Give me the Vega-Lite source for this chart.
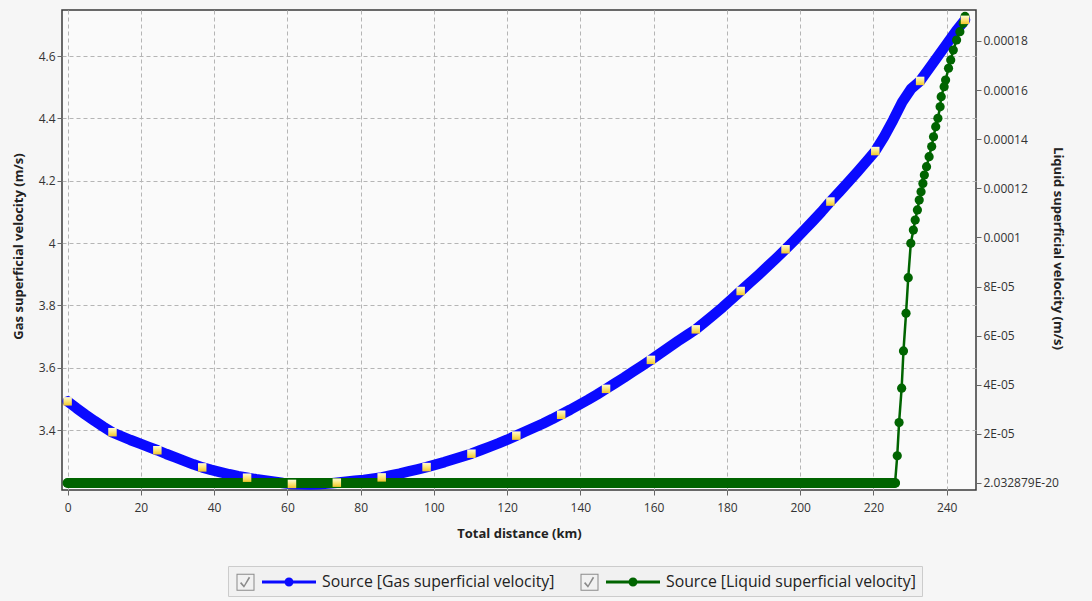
{
  "$schema": "https://vega.github.io/schema/vega-lite/v6.json",
  "autosize": {"type": "none"},
  "padding": {"left": 62, "top": 10, "right": 116, "bottom": 111},
  "width": 914,
  "height": 480,
  "background": "#f6f6f6",
  "config": {
    "font": "Open Sans",
    "view": {"fill": "#fafafa", "stroke": "#3a3a3a", "strokeWidth": 1.5},
    "axis": {
      "domain": false,
      "tickColor": "#666666",
      "tickSize": 5,
      "labelFont": "Open Sans",
      "labelFontSize": 12,
      "labelColor": "#333333",
      "titleFont": "Open Sans",
      "titleFontSize": 13,
      "titleFontWeight": "bold",
      "titleColor": "#222222",
      "gridColor": "#b5b5b5",
      "gridDash": [4, 3],
      "gridWidth": 1
    }
  },
  "datasets": {
    "gas": [
      {"km": 0, "v": 3.492}, {"km": 2.45, "v": 3.470}, {"km": 4.9, "v": 3.449}, {"km": 7.35, "v": 3.429}, {"km": 9.8, "v": 3.410},
      {"km": 12.25, "v": 3.392}, {"km": 14.7, "v": 3.380}, {"km": 17.15, "v": 3.368}, {"km": 19.6, "v": 3.357}, {"km": 22.05, "v": 3.346},
      {"km": 24.5, "v": 3.335}, {"km": 26.95, "v": 3.323}, {"km": 29.4, "v": 3.312}, {"km": 31.85, "v": 3.301}, {"km": 34.3, "v": 3.290},
      {"km": 36.75, "v": 3.280}, {"km": 39.2, "v": 3.272}, {"km": 41.65, "v": 3.265}, {"km": 44.1, "v": 3.258}, {"km": 46.55, "v": 3.252},
      {"km": 49, "v": 3.247}, {"km": 51.45, "v": 3.242}, {"km": 53.9, "v": 3.238}, {"km": 56.35, "v": 3.234}, {"km": 58.8, "v": 3.230},
      {"km": 61.25, "v": 3.227}, {"km": 63.7, "v": 3.226}, {"km": 66.15, "v": 3.225}, {"km": 68.6, "v": 3.226}, {"km": 71.05, "v": 3.228},
      {"km": 73.5, "v": 3.231}, {"km": 75.95, "v": 3.234}, {"km": 78.4, "v": 3.237}, {"km": 80.85, "v": 3.240}, {"km": 83.3, "v": 3.244},
      {"km": 85.75, "v": 3.248}, {"km": 88.2, "v": 3.254}, {"km": 90.65, "v": 3.260}, {"km": 93.1, "v": 3.267}, {"km": 95.55, "v": 3.274},
      {"km": 98, "v": 3.281}, {"km": 100.45, "v": 3.289}, {"km": 102.9, "v": 3.297}, {"km": 105.35, "v": 3.306}, {"km": 107.8, "v": 3.315},
      {"km": 110.25, "v": 3.324}, {"km": 112.7, "v": 3.335}, {"km": 115.15, "v": 3.346}, {"km": 117.6, "v": 3.357}, {"km": 120.05, "v": 3.369},
      {"km": 122.5, "v": 3.382}, {"km": 124.95, "v": 3.395}, {"km": 127.4, "v": 3.408}, {"km": 129.85, "v": 3.421}, {"km": 132.3, "v": 3.435},
      {"km": 134.75, "v": 3.450}, {"km": 137.2, "v": 3.465}, {"km": 139.65, "v": 3.481}, {"km": 142.1, "v": 3.497}, {"km": 144.55, "v": 3.514},
      {"km": 147, "v": 3.532}, {"km": 149.45, "v": 3.550}, {"km": 151.9, "v": 3.568}, {"km": 154.35, "v": 3.587}, {"km": 156.8, "v": 3.606},
      {"km": 159.25, "v": 3.625}, {"km": 161.7, "v": 3.645}, {"km": 164.15, "v": 3.665}, {"km": 166.6, "v": 3.685}, {"km": 169.05, "v": 3.704},
      {"km": 171.5, "v": 3.723}, {"km": 173.95, "v": 3.746}, {"km": 176.4, "v": 3.770}, {"km": 178.85, "v": 3.794}, {"km": 181.3, "v": 3.820},
      {"km": 183.75, "v": 3.846}, {"km": 186.2, "v": 3.872}, {"km": 188.65, "v": 3.898}, {"km": 191.1, "v": 3.925}, {"km": 193.55, "v": 3.952},
      {"km": 196, "v": 3.980}, {"km": 198.45, "v": 4.009}, {"km": 200.9, "v": 4.039}, {"km": 203.35, "v": 4.069}, {"km": 205.8, "v": 4.100},
      {"km": 208.25, "v": 4.133}, {"km": 210.7, "v": 4.164}, {"km": 213.15, "v": 4.196}, {"km": 215.6, "v": 4.228}, {"km": 218.05, "v": 4.261},
      {"km": 220.5, "v": 4.295}, {"km": 222.95, "v": 4.342}, {"km": 225.4, "v": 4.395}, {"km": 227.85, "v": 4.452}, {"km": 230.3, "v": 4.495},
      {"km": 232.75, "v": 4.520}, {"km": 235.2, "v": 4.560}, {"km": 237.65, "v": 4.600}, {"km": 240.1, "v": 4.640}, {"km": 242.55, "v": 4.680},
      {"km": 245, "v": 4.716}
    ],
    "markers": [
      {"km": 0, "v": 3.492}, {"km": 12.25, "v": 3.393}, {"km": 24.5, "v": 3.335}, {"km": 36.75, "v": 3.280}, {"km": 49, "v": 3.247},
      {"km": 61.25, "v": 3.227}, {"km": 73.5, "v": 3.231}, {"km": 85.75, "v": 3.248}, {"km": 98, "v": 3.281}, {"km": 110.25, "v": 3.324},
      {"km": 122.5, "v": 3.382}, {"km": 134.75, "v": 3.449}, {"km": 147, "v": 3.532}, {"km": 159.25, "v": 3.625}, {"km": 171.5, "v": 3.723},
      {"km": 183.75, "v": 3.846}, {"km": 196, "v": 3.980}, {"km": 208.25, "v": 4.133}, {"km": 220.5, "v": 4.295}, {"km": 232.75, "v": 4.520},
      {"km": 245, "v": 4.716}
    ],
    "liquid": [
      {"km": 0, "v": 0}, {"km": 4.9, "v": 0}, {"km": 9.8, "v": 0}, {"km": 14.7, "v": 0}, {"km": 19.6, "v": 0},
      {"km": 24.5, "v": 0}, {"km": 29.4, "v": 0}, {"km": 34.3, "v": 0}, {"km": 39.2, "v": 0}, {"km": 44.1, "v": 0},
      {"km": 49, "v": 0}, {"km": 53.9, "v": 0}, {"km": 58.8, "v": 0}, {"km": 63.7, "v": 0}, {"km": 68.6, "v": 0},
      {"km": 73.5, "v": 0}, {"km": 78.4, "v": 0}, {"km": 83.3, "v": 0}, {"km": 88.2, "v": 0}, {"km": 93.1, "v": 0},
      {"km": 98, "v": 0}, {"km": 102.9, "v": 0}, {"km": 107.8, "v": 0}, {"km": 112.7, "v": 0}, {"km": 117.6, "v": 0},
      {"km": 122.5, "v": 0}, {"km": 127.4, "v": 0}, {"km": 132.3, "v": 0}, {"km": 137.2, "v": 0}, {"km": 142.1, "v": 0},
      {"km": 147, "v": 0}, {"km": 151.9, "v": 0}, {"km": 156.8, "v": 0}, {"km": 161.7, "v": 0}, {"km": 166.6, "v": 0},
      {"km": 171.5, "v": 0}, {"km": 176.4, "v": 0}, {"km": 181.3, "v": 0}, {"km": 186.2, "v": 0}, {"km": 191.1, "v": 0},
      {"km": 196, "v": 0}, {"km": 200.9, "v": 0}, {"km": 205.8, "v": 0}, {"km": 210.7, "v": 0}, {"km": 215.6, "v": 0},
      {"km": 220.5, "v": 0}, {"km": 225.4, "v": 0}, {"km": 225.9, "v": 0},
      {"km": 226.5, "v": 0.0000111}, {"km": 227.0, "v": 0.0000246}, {"km": 227.7, "v": 0.0000386}, {"km": 228.2, "v": 0.0000538},
      {"km": 228.9, "v": 0.0000691}, {"km": 229.5, "v": 0.0000836}, {"km": 230.2, "v": 0.0000976}, {"km": 230.9, "v": 0.000103},
      {"km": 231.4, "v": 0.0001071}, {"km": 232.0, "v": 0.0001112}, {"km": 232.5, "v": 0.0001152}, {"km": 233.0, "v": 0.0001186},
      {"km": 233.5, "v": 0.000122}, {"km": 233.9, "v": 0.0001254}, {"km": 234.5, "v": 0.0001288}, {"km": 235.2, "v": 0.0001329},
      {"km": 235.9, "v": 0.000137}, {"km": 236.4, "v": 0.000141}, {"km": 237.0, "v": 0.0001451}, {"km": 237.6, "v": 0.0001485},
      {"km": 238.2, "v": 0.0001532}, {"km": 238.5, "v": 0.0001573}, {"km": 239.3, "v": 0.0001614}, {"km": 239.7, "v": 0.0001641},
      {"km": 240.5, "v": 0.0001689}, {"km": 241.1, "v": 0.0001723}, {"km": 241.8, "v": 0.0001763}, {"km": 242.7, "v": 0.0001804},
      {"km": 243.6, "v": 0.0001838}, {"km": 244.5, "v": 0.0001872}, {"km": 245.0, "v": 0.00019}
    ],
    "boxes": [
      {"km": 0, "box": "cb1"}, {"km": 0, "box": "cb2"}
    ]
  },
  "encoding": {
    "x": {
      "field": "km",
      "type": "quantitative",
      "scale": {"domain": [-1.53, 248], "nice": false, "zero": false},
      "axis": {
        "title": "Total distance (km)",
        "values": [0, 20, 40, 60, 80, 100, 120, 140, 160, 180, 200, 220, 240],
        "grid": true,
        "labelPadding": 7,
        "titlePadding": 14
      }
    }
  },
  "layer": [
    {
      "data": {"name": "gas"},
      "mark": {"type": "line", "strokeWidth": 10.5, "strokeCap": "round", "strokeJoin": "round", "clip": true},
      "encoding": {
        "y": {
          "field": "v",
          "type": "quantitative",
          "scale": {"domain": [3.2075, 4.7476], "nice": false, "zero": false},
          "axis": {
            "title": "Gas superficial velocity (m/s)",
            "orient": "left",
            "values": [3.4, 3.6, 3.8, 4.0, 4.2, 4.4, 4.6],
            "format": ".1~f",
            "grid": true,
            "labelPadding": 2,
            "titleX": -44,
            "titleY": 236,
            "titleBaseline": "middle",
            "titleAngle": -90
          }
        },
        "color": {
          "datum": "Source [Gas superficial velocity]",
          "scale": {
            "domain": ["Source [Gas superficial velocity]", "Source [Liquid superficial velocity]"],
            "range": ["#0a0aff", "#006400"]
          },
          "legend": {
            "orient": "none",
            "legendX": 166,
            "legendY": 556,
            "zindex": 0,
            "direction": "horizontal",
            "title": null,
            "padding": 6,
            "fillColor": "#f1f1f1",
            "strokeColor": "#cccccc",
            "symbolType": "M1.8,-0.15H7.2V0.15H1.8Z M4.95,0A0.45,0.45,0,1,1,4.05,0A0.45,0.45,0,1,1,4.95,0Z",
            "symbolSize": 400,
            "symbolStrokeWidth": 0,
            "symbolOpacity": 1,
            "labelOffset": 68,
            "columnPadding": 23,
            "labelFont": "Open Sans",
            "labelFontSize": 15.8,
            "labelColor": "#222222",
            "labelLimit": 400,
            "encode": {
              "symbols": {
                "update": {
                  "fill": {"scale": "color", "field": "value"},
                  "stroke": {"value": "transparent"},
                  "opacity": {"value": 1}
                }
              }
            }
          }
        }
      }
    },
    {
      "data": {"name": "liquid"},
      "encoding": {
        "y": {
          "field": "v",
          "type": "quantitative",
          "scale": {"domain": [-0.000002851, 0.00019262], "nice": false, "zero": false},
          "axis": {
            "title": "Liquid superficial velocity (m/s)",
            "orient": "right",
            "values": [0, 0.00002, 0.00004, 0.00006, 0.00008, 0.0001, 0.00012, 0.00014, 0.00016, 0.00018],
            "labelExpr": "datum.value < 1e-10 ? '2.032879E-20' : (datum.value < 0.000099 ? round(datum.value * 100000) + 'E-05' : format(datum.value, '.5~f'))",
            "grid": false,
            "labelPadding": 2,
            "titleX": 81,
            "titleY": 238,
            "titleBaseline": "middle",
            "titleAngle": 90
          }
        },
        "color": {"datum": "Source [Liquid superficial velocity]"}
      },
      "layer": [
        {
          "transform": [{"filter": "datum.v == 0"}],
          "mark": {"type": "line", "strokeWidth": 10, "strokeCap": "round", "strokeJoin": "round"}
        },
        {
          "mark": {"type": "line", "strokeWidth": 2.5}
        },
        {
          "mark": {"type": "point", "filled": true, "size": 85, "opacity": 1, "strokeWidth": 0}
        }
      ]
    },
    {
      "data": {"name": "markers"},
      "mark": {
        "type": "point",
        "shape": "square",
        "size": 72,
        "filled": true,
        "opacity": 1,
        "strokeWidth": 0,
        "fill": {"gradient": "linear", "x1": 0, "y1": 0, "x2": 0, "y2": 1,
          "stops": [{"offset": 0, "color": "#fffbd6"}, {"offset": 0.5, "color": "#fbe67a"}, {"offset": 1, "color": "#efc52c"}]}
      },
      "encoding": {
        "y": {
          "field": "v",
          "type": "quantitative",
          "scale": {"domain": [3.2075, 4.7476], "nice": false, "zero": false},
          "axis": null
        }
      }
    },
    {
      "data": {"name": "boxes"},
      "mark": {"type": "point", "filled": true, "size": 0, "opacity": 0, "color": "#8a8a8a", "fill": "#8a8a8a"},
      "encoding": {
        "shape": {
          "field": "box",
          "type": "nominal",
          "scale": {
            "domain": ["cb1", "cb2"],
            "range": [
              "M-0.75,-0.85H1.05V0.85H-0.75Z M-0.65,-0.75V0.75H0.95V-0.75Z M-0.4,0.1L-0.28,-0.02L0,0.3L0.48,-0.55L0.62,-0.45L0,0.55Z",
              "M-0.75,-0.85H1.05V0.85H-0.75Z M-0.65,-0.75V0.75H0.95V-0.75Z M-0.4,0.1L-0.28,-0.02L0,0.3L0.48,-0.55L0.62,-0.45L0,0.55Z"
            ]
          },
          "legend": {
            "orient": "none",
            "legendX": 166,
            "legendY": 556,
            "zindex": 1,
            "direction": "horizontal",
            "title": null,
            "padding": 6,
            "symbolSize": 400,
            "symbolStrokeWidth": 0,
            "symbolFillColor": "#8a8a8a",
            "symbolOpacity": 1,
            "labelOffset": 68,
            "columnPadding": 23,
            "labelFont": "Open Sans",
            "labelFontSize": 15.8,
            "labelColor": "transparent",
            "labelLimit": 400,
            "labelExpr": "datum.label == 'cb1' ? 'Source [Gas superficial velocity]' : 'Source [Liquid superficial velocity]'",
            "encode": {
              "symbols": {
                "update": {
                  "fill": {"value": "#8a8a8a"},
                  "stroke": {"value": "transparent"},
                  "opacity": {"value": 1}
                }
              }
            }
          }
        }
      }
    }
  ],
  "resolve": {"scale": {"y": "independent"}}
}
